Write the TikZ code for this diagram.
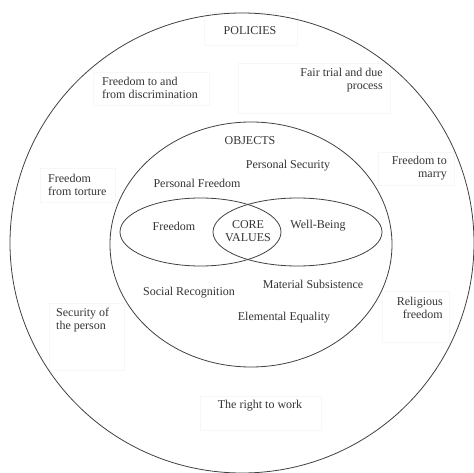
\documentclass[tikz,border=0pt]{standalone}
\usepackage{fontspec}
\setmainfont{Liberation Serif}
\usepackage{tikz}

\begin{document}
\begin{tikzpicture}[x=1pt,y=-1pt,
    txt/.style={font=\fontsize{12}{13}\selectfont, text=black!80, inner sep=0pt},
    ring/.style={draw=black!75, line width=0.8pt},
    faint/.style={draw=black!3, line width=0.5pt}]
    \useasboundingbox (0,0) rectangle (474,473);

    % Faint text frames
    \foreach \xa/\ya/\xb/\yb in {204/12/297/45, 238/63/390/113, 93/72/209/105,
        40/168/115/202, 378/152/454/185, 49/303/124/370, 382/291/449/342, 200/396/321/430}
        \draw[faint] (\xa,\ya) rectangle (\xb,\yb);

    % Policies
    \draw[ring] (242,243) ellipse (232 and 230);
    % Objects
    \draw[ring] (251,244.5) ellipse (141 and 122.5);
    % Freedom and Well-Being
    \draw[ring] (200.5,232) ellipse (80.5 and 34);
    \draw[ring] (297.5,232) ellipse (84.5 and 34);

    % Policy labels
    \node[txt] (policies) at (250,31) {POLICIES};
    \node[txt, align=left, anchor=west] (discrim) at (102,88) {Freedom to and\\from discrimination};
    \node[txt, align=right, anchor=east] (trial) at (383,80) {Fair trial and due\\process};
    \node[txt, align=right, anchor=east] (marry) at (447,168) {Freedom to\\marry};
    \node[txt, align=left, anchor=west] (torture) at (48,184.5) {Freedom\\from torture};
    \node[txt, align=left, anchor=west] (security) at (56,320) {Security of\\the person};
    \node[txt, align=right, anchor=east] (religious) at (443,308) {Religious\\freedom};
    \node[txt] (work) at (260,406) {The right to work};

    % Object labels
    \node[txt] (objects) at (250,141) {OBJECTS};
    \node[txt] (psecurity) at (288,166) {Personal Security};
    \node[txt] (pfreedom) at (197,183) {Personal Freedom};
    \node[txt] (social) at (189,293) {Social Recognition};
    \node[txt] (material) at (313,284) {Material Subsistence};
    \node[txt] (equality) at (284,318) {Elemental Equality};

    % Core values
    \node[txt] (freedom) at (174,226) {Freedom};
    \node[txt, align=center] (core) at (248,231.5) {CORE\\VALUES};
    \node[txt] (wellbeing) at (318,226) {Well-Being};
\end{tikzpicture}
\end{document}
